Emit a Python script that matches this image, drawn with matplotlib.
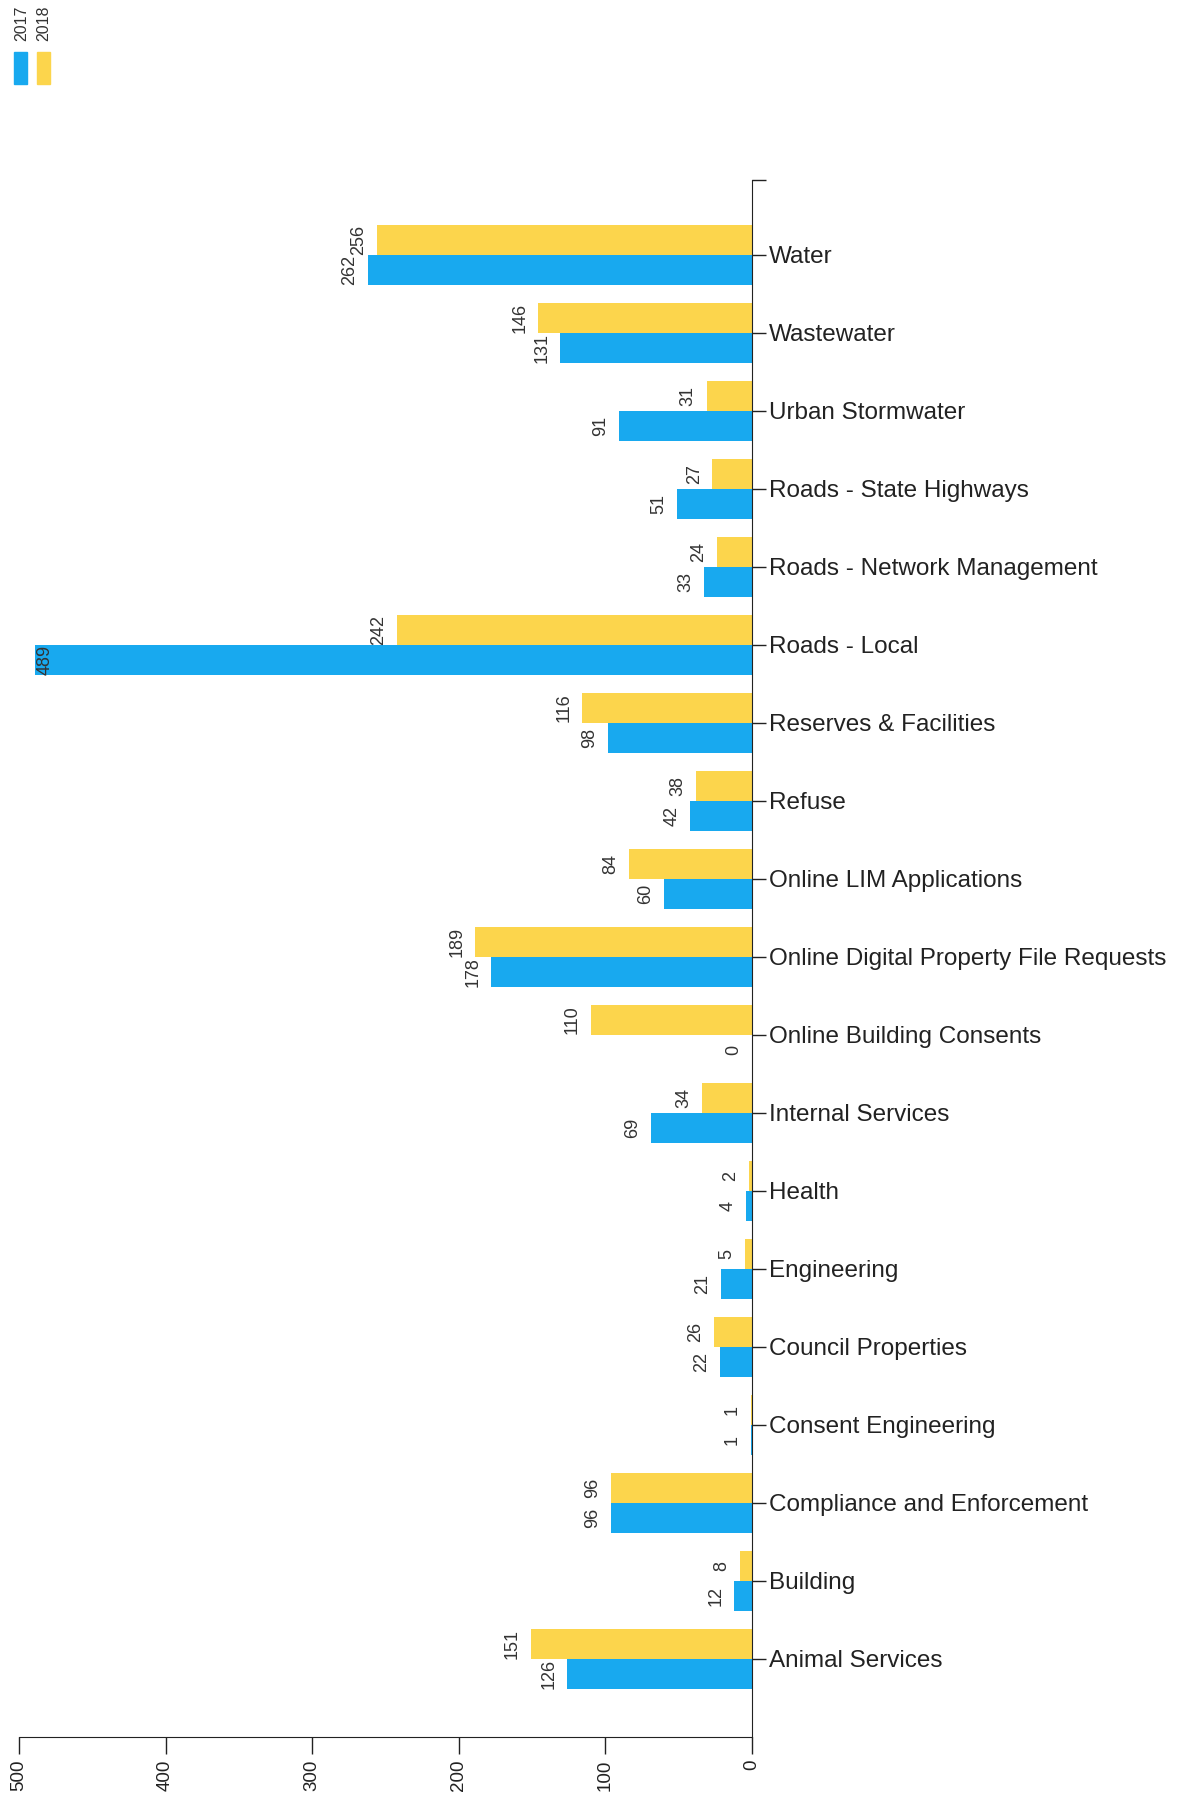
import matplotlib.pyplot as plt
import numpy as np

plt.rcParams['font.family'] = ['Liberation Sans', 'DejaVu Sans']

# categories, top to bottom
categories = ['Water', 'Wastewater', 'Urban Stormwater', 'Roads - State Highways',
              'Roads - Network Management', 'Roads - Local', 'Reserves & Facilities',
              'Refuse', 'Online LIM Applications', 'Online Digital Property File Requests',
              'Online Building Consents', 'Internal Services', 'Health', 'Engineering',
              'Council Properties', 'Consent Engineering', 'Compliance and Enforcement',
              'Building', 'Animal Services']
values_2017 = [262, 131, 91, 51, 33, 489, 98, 42, 60, 178, 0, 69, 4, 21, 22, 1, 96, 12, 126]
values_2018 = [256, 146, 31, 27, 24, 242, 116, 38, 84, 189, 110, 34, 2, 5, 26, 1, 96, 8, 151]
x_ticks = [0, 100, 200, 300, 400, 500]

blue = '#18A9EF'
yellow = '#FCD54C'

fig = plt.figure(figsize=(11.95, 18), dpi=100)
ax = fig.add_axes([19 / 1195, 1 - 1737 / 1800, (752 - 19) / 1195, (1737 - 180) / 1800])

y = np.arange(len(categories))
h = 0.385
ax.barh(y - h / 2, values_2018, height=h, color=yellow, label='2018')
ax.barh(y + h / 2, values_2017, height=h, color=blue, label='2017')

ax.set_xlim(500, 0)
ax.set_ylim(19.0, -0.96)

for vals, off in ((values_2018, -h / 2), (values_2017, h / 2)):
    for i, v in enumerate(vals):
        if v > 470:
            ax.annotate(str(v), (v, i + off), xytext=(1, 0), textcoords='offset points',
                        ha='left', va='center', rotation=90, fontsize=13, color='#333333')
        else:
            ax.annotate(str(v), (v, i + off), xytext=(-7, 0), textcoords='offset points',
                        ha='right', va='center', rotation=90, fontsize=13, color='#333333')

for s in ('left', 'top'):
    ax.spines[s].set_visible(False)
ax.spines['right'].set_color('#222222')
ax.spines['bottom'].set_color('#222222')

ax.yaxis.tick_right()
ax.set_yticks(y)
ax.set_yticklabels(categories, fontsize=17.5, color='#222222')
ax.set_yticks([-0.96], minor=True)
ax.tick_params(axis='y', which='both', direction='out', length=10, width=1, pad=2, colors='#222222')

ax.set_xticks(x_ticks)
ax.set_xticklabels([str(t) for t in x_ticks], rotation=90, fontsize=13.5, color='#333333')
ax.tick_params(axis='x', direction='out', length=12, width=1, pad=4, colors='#222222')

# legend, rotated like the rest of the chart
fig.patches.append(plt.Rectangle((14 / 1195, 1 - 84 / 1800), 13 / 1195, 32 / 1800,
                                 transform=fig.transFigure, color=blue))
fig.patches.append(plt.Rectangle((37 / 1195, 1 - 84 / 1800), 13 / 1195, 32 / 1800,
                                 transform=fig.transFigure, color=yellow))
fig.text(22 / 1195, 1 - 41 / 1800, '2017', rotation=90, fontsize=11.5, ha='center', va='bottom', color='#333333')
fig.text(44 / 1195, 1 - 41 / 1800, '2018', rotation=90, fontsize=11.5, ha='center', va='bottom', color='#333333')

fig.savefig('out.png', dpi=100, facecolor='white')
